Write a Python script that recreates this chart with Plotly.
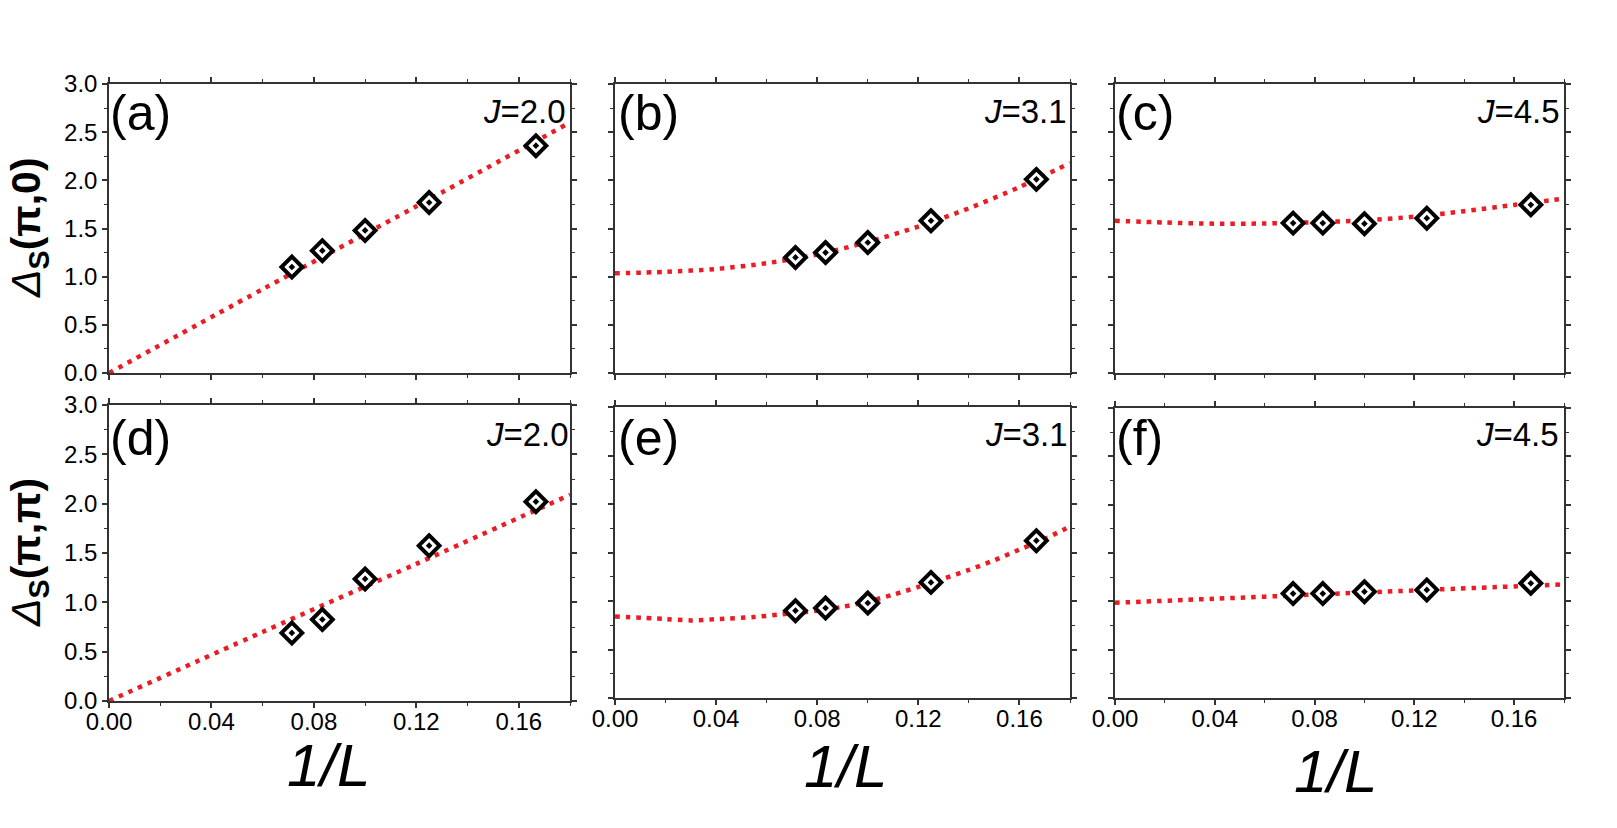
import plotly.graph_objects as go

W, H = 1617, 828

# ---------------- data ----------------
inv_L = [0.0714, 0.0833, 0.1000, 0.1250, 0.1667]

gap_pi0_J20 = [1.10, 1.27, 1.48, 1.77, 2.36]
gap_pi0_J31 = [1.20, 1.25, 1.355, 1.58, 2.01]
gap_pi0_J45 = [1.556, 1.556, 1.55, 1.607, 1.746]
gap_pipi_J20 = [0.69, 0.826, 1.237, 1.574, 2.02]
gap_pipi_J31 = [0.90, 0.928, 0.979, 1.192, 1.622]
gap_pipi_J45 = [1.08, 1.08, 1.10, 1.118, 1.187]

fit_a_x = [0.0, 0.06, 0.12, 0.18]
fit_a_y = [0.0, 0.87, 1.73, 2.60]
fit_b_x = [0.0, 0.02, 0.04, 0.06, 0.08, 0.10, 0.12, 0.14, 0.16, 0.18]
fit_b_y = [1.035, 1.05, 1.08, 1.14, 1.23, 1.36, 1.52, 1.71, 1.93, 2.18]
fit_c_x = [0.0, 0.02, 0.04, 0.06, 0.08, 0.10, 0.12, 0.14, 0.16, 0.18]
fit_c_y = [1.58, 1.562, 1.55, 1.552, 1.565, 1.585, 1.623, 1.68, 1.745, 1.81]
fit_d_x = [0.0, 0.06, 0.12, 0.18]
fit_d_y = [0.0, 0.70, 1.39, 2.09]
fit_e_x = [0.0, 0.02, 0.03, 0.04, 0.055, 0.065, 0.08, 0.09, 0.10, 0.11, 0.12, 0.13, 0.14, 0.15, 0.16, 0.17, 0.18]
fit_e_y = [0.84, 0.814, 0.80, 0.812, 0.835, 0.86, 0.90, 0.94, 0.995, 1.065, 1.145, 1.23, 1.32, 1.42, 1.53, 1.64, 1.77]
fit_f_x = [0.0, 0.04, 0.08, 0.12, 0.18]
fit_f_y = [0.985, 1.027, 1.07, 1.113, 1.175]

panel_labels = ["(a)", "(b)", "(c)", "(d)", "(e)", "(f)"]
J_labels = ["2.0", "3.1", "4.5", "2.0", "3.1", "4.5"]
x_ticks = [0.00, 0.04, 0.08, 0.12, 0.16]
y_ticks = [0.0, 0.5, 1.0, 1.5, 2.0, 2.5, 3.0]
y_titles = ["(π,0)", "(π,π)"]

series = [gap_pi0_J20, gap_pi0_J31, gap_pi0_J45, gap_pipi_J20, gap_pipi_J31, gap_pipi_J45]
fits = [(fit_a_x, fit_a_y), (fit_b_x, fit_b_y), (fit_c_x, fit_c_y),
        (fit_d_x, fit_d_y), (fit_e_x, fit_e_y), (fit_f_x, fit_f_y)]

# ---------------- layout geometry (pixels) ----------------
col_px = [(109, 570), (615, 1070), (1115, 1564)]
row_px = [[(84, 373), (84, 373), (84, 373)],
          [(405, 701), (407, 698), (408, 698)]]

FONT = "Liberation Sans, Arial, Helvetica, sans-serif"
RED = "#ec1c24"
AX = "#333333"

fig = go.Figure()
layout = dict(width=W, height=H, margin=dict(l=0, r=0, t=0, b=0, autoexpand=False),
              paper_bgcolor="white", plot_bgcolor="white", showlegend=False,
              template="none")

annotations = []
for i in range(6):
    r, c = divmod(i, 3)
    n = i + 1
    xa = "x" if n == 1 else f"x{n}"
    ya = "y" if n == 1 else f"y{n}"
    fx, fy = fits[i]
    fig.add_trace(go.Scatter(x=fx, y=fy, xaxis=xa, yaxis=ya, mode="lines",
                             line=dict(color=RED, width=4.5, dash="4.5px,6px", shape="spline", smoothing=0.8),
                             hoverinfo="skip"))
    fig.add_trace(go.Scatter(x=inv_L, y=series[i], xaxis=xa, yaxis=ya, mode="markers",
                             marker=dict(symbol="diamond-dot", size=16, color="white",
                                         line=dict(color="black", width=4))))
    x0, x1 = col_px[c]
    y0, y1 = row_px[r][c]
    common = dict(showline=True, linecolor=AX, linewidth=1.5, mirror="allticks",
                  ticks="outside", ticklen=5, tickwidth=1.5, tickcolor=AX,
                  showgrid=False, zeroline=False, automargin=False,
                  tickfont=dict(family=FONT, size=24, color="black"))
    layout["xaxis" if n == 1 else f"xaxis{n}"] = dict(
        common, domain=[x0 / W, x1 / W], range=[0, 0.18], anchor=ya,
        tickmode="array", tickvals=x_ticks, ticktext=[f"{v:.2f}" for v in x_ticks],
        showticklabels=(r == 1), ticklabelstandoff=-7,
        minor=dict(ticks="outside", ticklen=3, tickwidth=1.2, tickcolor=AX, dtick=0.02, tick0=0, showgrid=False))
    layout["yaxis" if n == 1 else f"yaxis{n}"] = dict(
        common, domain=[1 - y1 / H, 1 - y0 / H], range=[0, 3.0], anchor=xa,
        tickmode="array", tickvals=y_ticks, ticktext=[f"{v:.1f}" for v in y_ticks],
        showticklabels=(c == 0),
        minor=dict(ticks="outside", ticklen=3, tickwidth=1.2, tickcolor=AX, dtick=0.25, tick0=0, showgrid=False))

# panel letters
lab_left = [107.5, 615.5, 1114, 107.5, 616, 1114]
lab_mid = [113, 113, 113, 438, 438, 438]
j_right = [568, 1068.5, 1562, 571, 1069.5, 1560.5]
j_mid = [111.5, 111.5, 111.5, 434, 434, 434]
for i in range(6):
    annotations.append(dict(text=panel_labels[i], xref="paper", yref="paper",
                            x=lab_left[i] / W, y=1 - lab_mid[i] / H, xanchor="left", yanchor="middle",
                            showarrow=False, font=dict(family=FONT, size=50, color="black")))
    annotations.append(dict(text=f"<i>J</i>={J_labels[i]}", xref="paper", yref="paper",
                            x=j_right[i] / W, y=1 - j_mid[i] / H, xanchor="right", yanchor="middle",
                            showarrow=False, font=dict(family=FONT, size=33, color="black")))

# x titles
xt_cx = [328, 845, 1335]
xt_cy = [765, 766, 771]
for c in range(3):
    annotations.append(dict(text="<i>1/L</i>", xref="paper", yref="paper",
                            x=xt_cx[c] / W, y=1 - xt_cy[c] / H, xanchor="center", yanchor="middle",
                            showarrow=False, font=dict(family=FONT, size=60, color="black")))

# y titles
yt_cy = [228, 553]
for r in range(2):
    annotations.append(dict(text=f"<i>Δ</i><b><sub>S</sub>{y_titles[r]}</b>", xref="paper", yref="paper",
                            x=29 / W, y=1 - yt_cy[r] / H, xanchor="center", yanchor="middle",
                            textangle=-90, showarrow=False,
                            font=dict(family=FONT, size=41, color="black")))

layout["annotations"] = annotations
fig.update_layout(**layout)
fig.write_html("out.html")
